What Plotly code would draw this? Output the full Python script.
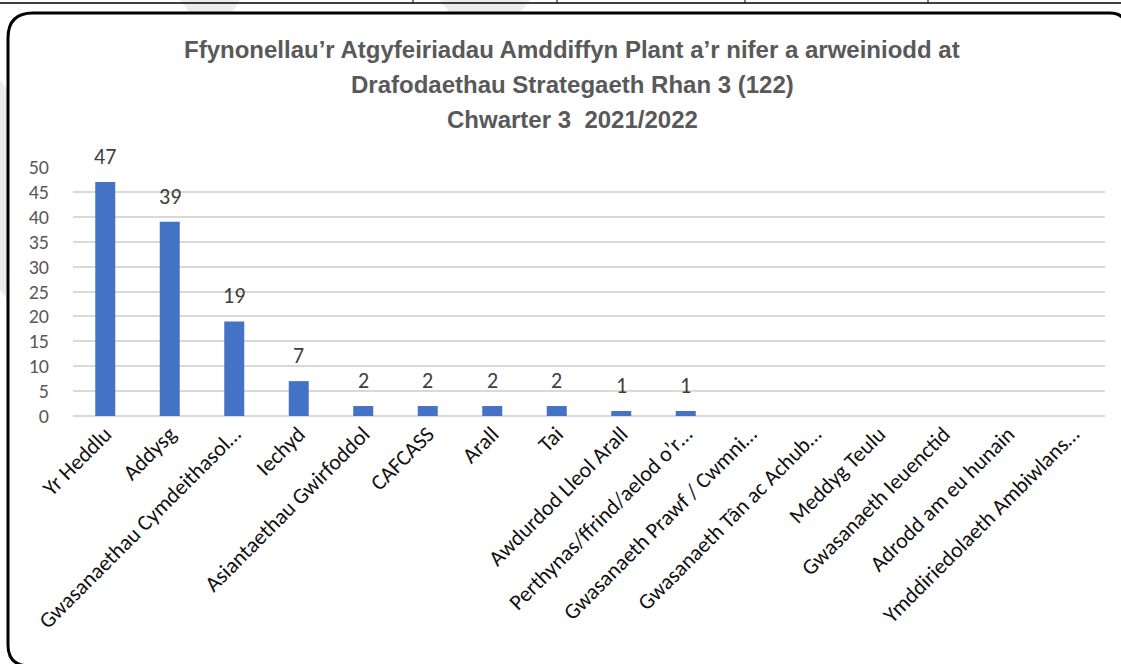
import plotly.graph_objects as go

categories = [
    "Yr Heddlu", "Addysg", "Gwasanaethau Cymdeithasol…", "Iechyd",
    "Asiantaethau Gwirfoddol", "CAFCASS", "Arall", "Tai",
    "Awdurdod Lleol Arall", "Perthynas/ffrind/aelod o’r…",
    "Gwasanaeth Prawf / Cwmni…", "Gwasanaeth Tân ac Achub…",
    "Meddyg Teulu", "Gwasanaeth Ieuenctid", "Adrodd am eu hunain",
    "Ymddiriedolaeth Ambiwlans…",
]
values = [47, 39, 19, 7, 2, 2, 2, 2, 1, 1, 0, 0, 0, 0, 0, 0]
y_ticks = [0, 5, 10, 15, 20, 25, 30, 35, 40, 45, 50]
title_lines = [
    "Ffynonellau’r Atgyfeiriadau Amddiffyn Plant a’r nifer a arweiniodd at",
    "Drafodaethau Strategaeth Rhan 3 (122)",
    "Chwarter 3  2021/2022",
]

W, H = 1121, 664
L, R, T, B = 73, 1105, 167, 416

def px(x):
    return (x - L) / (R - L)

def py(y):
    return (B - y) / (B - T)

TICK_FONT = "Calibri, Carlito, Lato, sans-serif"

fig = go.Figure()
fig.add_trace(go.Bar(
    x=categories, y=values,
    marker=dict(color="#4472C4", line=dict(width=0)),
    hoverinfo="x+y",
))

for c, v in zip(categories, values):
    if v:
        fig.add_annotation(x=c, y=v, xref="x", yref="y", text=str(v),
                           showarrow=False, yanchor="bottom", yshift=10,
                           font=dict(family=TICK_FONT, size=22, color="#404040"))

for line, yc in zip(title_lines, [50, 84, 119]):
    fig.add_annotation(
        xref="paper", yref="paper", x=px(572), y=py(yc),
        xanchor="center", yanchor="middle", showarrow=False,
        text="<b>" + line + "</b>",
        font=dict(family="Liberation Sans Narrow, Arial Narrow, Liberation Sans, sans-serif",
                  size=24, color="#595959"),
    )

shapes = []
wm = "#ececec"
for path in [
    "M 0,80 L 8,90 L 8,300 L 0,290 Z",
    "M 180,0 L 240,0 L 232,13 L 190,13 Z",
    "M 440,0 L 530,0 L 520,13 L 450,13 Z",
]:
    pts = []
    for tok in path.split():
        if "," in tok:
            a, b = tok.split(",")
            pts.append(f"{px(float(a))},{py(float(b))}")
        else:
            pts.append(tok)
    shapes.append(dict(type="path", xref="paper", yref="paper", path=" ".join(pts),
                       fillcolor=wm, line=dict(width=0), layer="below"))

def P(x, y):
    return f"{px(x)},{py(y)}"

shapes.append(dict(type="line", xref="paper", yref="paper",
                   x0=px(0), x1=px(1121), y0=py(3), y1=py(3),
                   line=dict(color="black", width=1.5), layer="below"))
for xv in [413, 557, 745, 928]:
    shapes.append(dict(type="line", xref="paper", yref="paper",
                       x0=px(xv), x1=px(xv), y0=py(0), y1=py(3),
                       line=dict(color="black", width=1), layer="below"))

box = (f"M {P(8,38)} Q {P(8,13)} {P(33,13)} L {P(1110,13)} Q {P(1124,13)} {P(1126,26)} "
       f"L {P(1126,680)} L {P(30,680)} L {P(30,666)} Q {P(8,666)} {P(8,645)} Z")
shapes.append(dict(type="path", xref="paper", yref="paper", path=box,
                   fillcolor="white", line=dict(color="black", width=3), layer="below"))

fig.update_layout(
    width=W, height=H,
    margin=dict(l=L, r=W - R, t=T, b=H - B, autoexpand=False),
    paper_bgcolor="white", plot_bgcolor="rgba(0,0,0,0)",
    bargap=0.69, showlegend=False,
    shapes=shapes,
    xaxis=dict(
        tickangle=-45, tickfont=dict(family=TICK_FONT, size=22, color="#111111"),
        showgrid=False, showline=False, ticks="", zeroline=False,
    ),
    yaxis=dict(
        range=[0, 50], tickvals=y_ticks, ticks="",
        tickfont=dict(family=TICK_FONT, size=20, color="#595959"),
        showgrid=True, gridcolor="#d9d9d9", gridwidth=1.5,
        zeroline=True, zerolinecolor="#d9d9d9", zerolinewidth=1.5,
        showline=False, ticklabelstandoff=23,
    ),
)

fig.write_html("out.html", config={"displayModeBar": False},
               post_script="document.body.style.margin='0';document.body.style.overflow='hidden';")
